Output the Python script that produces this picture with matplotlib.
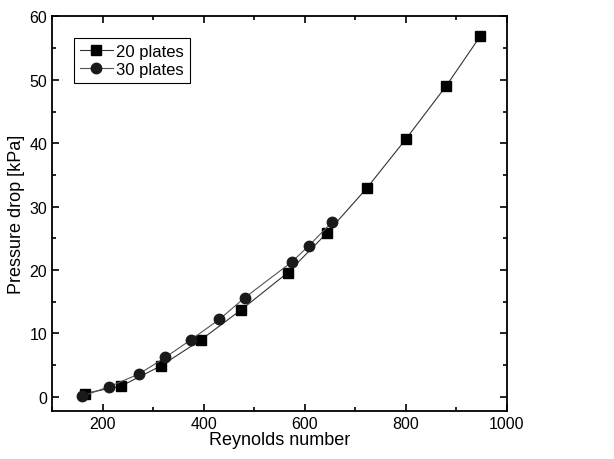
import matplotlib
matplotlib.use("Agg")
import matplotlib.pyplot as plt
from matplotlib.ticker import MultipleLocator

plt.rcParams['font.family'] = ['Liberation Sans', 'DejaVu Sans']

# 20 plates
re_20 = [164, 237, 316, 395, 474, 567, 645, 723, 801, 881, 948]
dp_20 = [0.5, 1.7, 4.9, 9.0, 13.7, 19.6, 25.9, 32.9, 40.7, 49.1, 56.9]

# 30 plates
re_30 = [160, 213, 272, 324, 375, 431, 481, 575, 608, 655]
dp_30 = [0.1, 1.6, 3.6, 6.2, 9.0, 12.2, 15.6, 21.3, 23.8, 27.6]

fig, ax = plt.subplots(figsize=(6.14, 4.6), dpi=100)
fig.subplots_adjust(left=0.085, right=0.825, top=0.962, bottom=0.105)

ax.plot(re_20, dp_20, color='#333333', lw=0.8, marker='s', ms=7,
        mfc='black', mec='black', label='20 plates')
ax.plot(re_30, dp_30, color='#555555', lw=0.8, marker='o', ms=7.5,
        mfc='#1a1a1a', mec='#1a1a1a', label='30 plates')

ax.set_xlim(100, 1000)
ax.set_ylim(-2.2, 60)
ax.xaxis.set_major_locator(MultipleLocator(200))
ax.xaxis.set_minor_locator(MultipleLocator(100))
ax.yaxis.set_major_locator(MultipleLocator(10))
ax.yaxis.set_minor_locator(MultipleLocator(5))
ax.tick_params(which='both', direction='in', top=True, right=True,
               labelsize=11.5, width=1.2)
ax.tick_params(which='major', length=5)
ax.tick_params(which='minor', length=3)
for s in ax.spines.values():
    s.set_linewidth(1.3)

ax.set_xlabel('Reynolds number', fontsize=13, labelpad=0)
ax.set_ylabel('Pressure drop [kPa]', fontsize=13, labelpad=3)

leg = ax.legend(loc='upper left', fontsize=12, fancybox=False,
                edgecolor='black', framealpha=1, borderaxespad=1.3,
                handlelength=2.0, handletextpad=0.2, labelspacing=0.2,
                borderpad=0.35)
leg.get_frame().set_linewidth(0.8)

fig.savefig('out.png', dpi=100)
